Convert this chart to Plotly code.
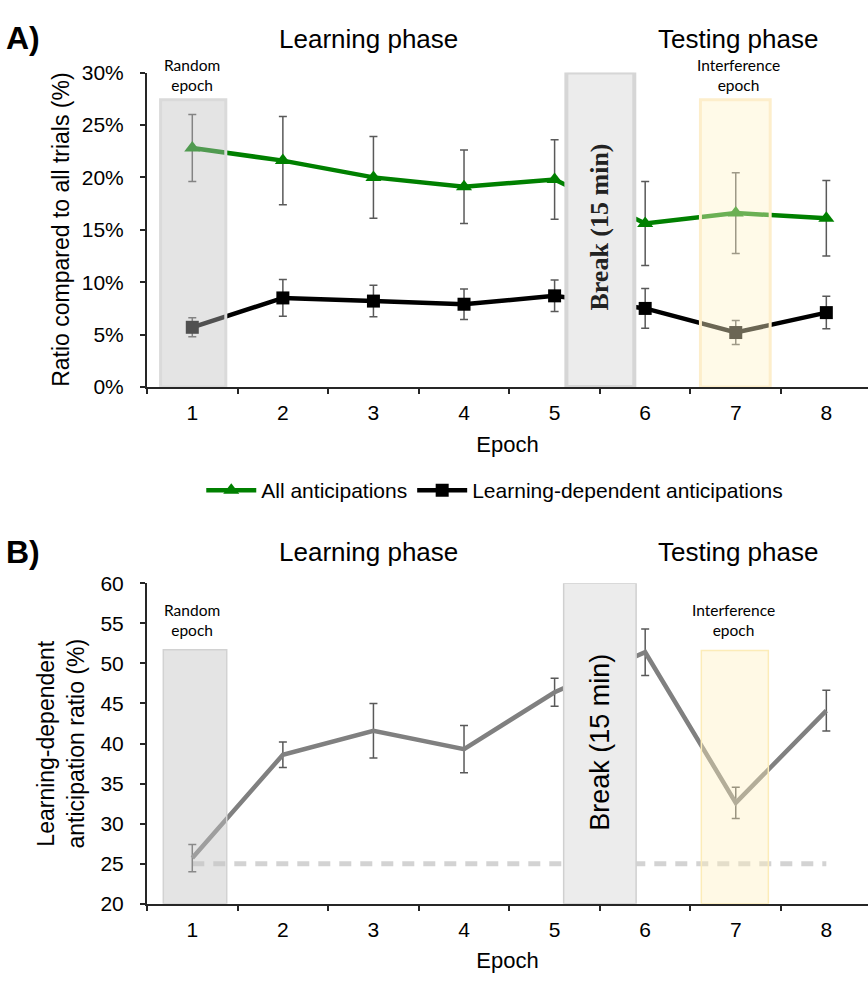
import plotly.graph_objects as go

# ---------------- data ----------------
epochs = [1, 2, 3, 4, 5, 6, 7, 8]
epoch_labels = ["1", "2", "3", "4", "5", "6", "7", "8"]

all_antic = [22.8, 21.6, 20.0, 19.1, 19.8, 15.6, 16.6, 16.1]
all_antic_err = [3.2, 4.2, 3.9, 3.5, 3.8, 4.0, 3.85, 3.6]

ld_antic = [5.7, 8.5, 8.2, 7.9, 8.7, 7.5, 5.2, 7.1]
ld_antic_err = [0.9, 1.75, 1.5, 1.45, 1.5, 1.9, 1.15, 1.55]

ld_ratio = [25.7, 38.6, 41.6, 39.3, 46.4, 51.4, 32.6, 44.1]
ld_ratio_err = [1.7, 1.6, 3.4, 2.95, 1.75, 2.9, 1.95, 2.55]

chance_level = 25
top_yticks = [0, 5, 10, 15, 20, 25, 30]
bot_yticks = [20, 25, 30, 35, 40, 45, 50, 55, 60]

W, H = 868, 986
FONT = "Liberation Sans, Arial, sans-serif"
SMALL = "Lato, Open Sans, sans-serif"
AXC = "#262626"
ERRC = "#595959"


def py(p):  # pixel row -> paper y
    return 1 - p / H


def px(p):
    return p / W


fig = go.Figure()

# ---------------- panel A ----------------
fig.add_trace(go.Scatter(
    x=epochs, y=all_antic, name="All anticipations", mode="lines+markers",
    line=dict(color="#008000", width=4.5),
    marker=dict(symbol="triangle-up", size=14, color="#008000"),
    error_y=dict(type="data", array=all_antic_err, color=ERRC, thickness=1.5, width=4),
    xaxis="x", yaxis="y"))
fig.add_trace(go.Scatter(
    x=epochs, y=ld_antic, name="Learning-dependent anticipations", mode="lines+markers",
    line=dict(color="#000000", width=4.5),
    marker=dict(symbol="square", size=13, color="#000000"),
    error_y=dict(type="data", array=ld_antic_err, color=ERRC, thickness=1.5, width=4),
    xaxis="x", yaxis="y"))

# ---------------- panel B ----------------
fig.add_trace(go.Scatter(
    x=[epochs[0], epochs[-1]], y=[chance_level, chance_level], mode="lines",
    line=dict(color="#d3d3d3", width=5, dash="12px,9px"), showlegend=False,
    hoverinfo="skip", xaxis="x2", yaxis="y2"))
fig.add_trace(go.Scatter(
    x=epochs, y=ld_ratio, mode="lines", showlegend=False,
    line=dict(color="#808080", width=4.5),
    error_y=dict(type="data", array=ld_ratio_err, color=ERRC, thickness=1.5, width=4),
    xaxis="x2", yaxis="y2"))

xdom = [px(147), 1]
xrange = [0.5, 8.46]
common_x = dict(
    domain=xdom, range=xrange, tickmode="array", tickvals=epochs, ticktext=epoch_labels,
    ticks="", showline=True, linecolor=AXC, linewidth=2, showgrid=False, zeroline=False,
    tickfont=dict(family=FONT, size=21, color="#000"), ticklabelstandoff=6,
    minor=dict(tickmode="array", tickvals=[e - 0.5 for e in epochs] + [8.5],
               ticks="outside", ticklen=5, tickwidth=1.5, tickcolor=AXC, showgrid=False),
    title=dict(text="Epoch", font=dict(family=FONT, size=22, color="#000"), standoff=13),
)
common_y = dict(
    tickmode="array", ticks="outside", ticklen=5, tickwidth=1.5, tickcolor=AXC,
    showline=True, linecolor=AXC, linewidth=2, showgrid=False, zeroline=False,
    tickfont=dict(family=FONT, size=21, color="#000"), ticklabelstandoff=12,
)

fig.update_layout(
    width=W, height=H, margin=dict(l=0, r=0, t=0, b=0),
    paper_bgcolor="white", plot_bgcolor="white",
    font=dict(family=FONT, color="#000"),
    xaxis=dict(anchor="y", **common_x),
    yaxis=dict(anchor="x", domain=[py(384), py(62)], range=[0, 30], tickvals=top_yticks,
               ticktext=[f"{v}%" for v in top_yticks], **common_y),
    xaxis2=dict(anchor="y2", **common_x),
    yaxis2=dict(anchor="x2", domain=[py(913), py(585)], range=[20, 60], tickvals=bot_yticks,
                ticktext=[str(v) for v in bot_yticks], **common_y),
    legend=dict(orientation="h", x=0.57, xanchor="center", y=py(490), yanchor="middle",
                font=dict(family=FONT, size=21, color="#000"), itemwidth=50,
                bgcolor="rgba(0,0,0,0)"),
)

shapes = [
    # panel A
    dict(type="rect", xref="x", yref="y", x0=0.65, x1=1.37, y0=0, y1=27.4, layer="above",
         fillcolor="rgba(190,190,190,0.42)", line=dict(color="#dadada", width=3)),
    dict(type="rect", xref="x", yref="y", x0=5.13, x1=5.88, y0=0, y1=30, layer="above",
         fillcolor="#ececec", line=dict(color="#d6d6d6", width=4)),
    dict(type="rect", xref="x", yref="y", x0=6.61, x1=7.38, y0=0, y1=27.4, layer="above",
         fillcolor="rgba(255,242,200,0.42)", line=dict(color="#fdeecb", width=3)),
    # panel B
    dict(type="rect", xref="x2", yref="y2", x0=0.68, x1=1.38, y0=20, y1=51.7, layer="above",
         fillcolor="rgba(195,195,195,0.45)", line=dict(color="#d2d2d2", width=1.5)),
    dict(type="rect", xref="x2", yref="y2", x0=5.1, x1=5.9, y0=20, y1=60, layer="above",
         fillcolor="#ececec", line=dict(color="#d0d0d0", width=1.5)),
    dict(type="rect", xref="x2", yref="y2", x0=6.62, x1=7.36, y0=20, y1=51.6, layer="above",
         fillcolor="rgba(255,240,190,0.4)", line=dict(color="#fcecb8", width=1.5)),
]
fig.update_layout(shapes=shapes)

ann = []
def txt(text, x, y, size, family=FONT, xref="paper", yref="paper", xanchor="center",
        yanchor="middle", angle=0, color="#000"):
    ann.append(dict(text=text, x=x, y=y, xref=xref, yref=yref, xanchor=xanchor,
                    yanchor=yanchor, showarrow=False, textangle=angle,
                    font=dict(family=family, size=size, color=color)))

txt("<b>A)</b>", px(4), py(27), 32, xanchor="left")
txt("<b>B)</b>", px(4), py(553), 32, xanchor="left")
txt("Learning phase", px(368), py(28), 26)
txt("Testing phase", px(738), py(28), 26)
txt("Learning phase", px(368), py(553), 26)
txt("Testing phase", px(738), py(553), 26)
txt("Random<br>epoch", 1, py(64), 15.5, family=SMALL, xref="x")
txt("Interference<br>epoch", 7.03, py(64), 15.5, family=SMALL, xref="x")
txt("Random<br>epoch", 1, py(623), 15.5, family=SMALL, xref="x2")
txt("Interference<br>epoch", 6.98, py(623), 15.5, family=SMALL, xref="x2")
txt("<b>Break (15 min)</b>", 5.5, 15.3, 26, family="Liberation Serif, Times New Roman, serif",
    xref="x", yref="y", angle=-90, color="#222")
txt("Break (15 min)", 5.5, 40.2, 27, xref="x2", yref="y2", angle=-90)
txt("Ratio compared to all trials (%)", px(61), py(223), 23, angle=-90)
txt("Learning-dependent<br>anticipation ratio (%)", px(61), py(749), 23, angle=-90)
fig.update_layout(annotations=ann)

fig.write_html("out.html")
